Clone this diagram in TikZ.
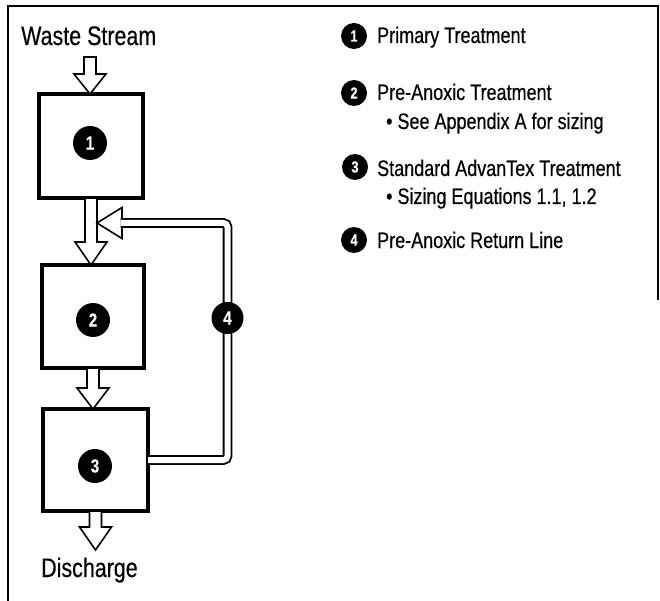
\documentclass[tikz,border=0pt]{standalone}
\usepackage{fontspec}
\setmainfont[FakeStretch=0.8,FakeBold=0.4]{Liberation Sans}
\usetikzlibrary{calc}
\newcommand\flowarrow[3]{%
  \draw[blockarrow] ($(#1)+(-6,0)$) -- ($(#1)+(6,0)$) -- ($(#1 |- #2)+(6,-#3)$)
    -- ($(#1 |- #2)+(16,-#3)$) -- (#1 |- #2) -- ($(#1 |- #2)+(-16,-#3)$)
    -- ($(#1 |- #2)+(-6,-#3)$) -- cycle;}
\begin{document}
\begin{tikzpicture}[x=1pt,y=-1pt,
  tank/.style={draw, line width=4pt, inner sep=0pt, outer sep=0pt},
  num/.style={circle, fill=black, text=white, inner sep=0pt, minimum size=34pt,
    font=\bfseries\fontsize{19}{19}\selectfont},
  lnum/.style={circle, fill=black, text=white, inner sep=0pt, minimum size=26pt,
    font=\bfseries\fontsize{16}{16}\selectfont},
  blockarrow/.style={draw, line width=1.6pt, fill=white, line join=miter},
  ret/.style={draw, double, double distance=6pt, line width=1.8pt, rounded corners=4pt},
  big/.style={font=\fontsize{26.8}{30}\selectfont, anchor=base west, inner sep=0pt},
  leg/.style={font=\fontsize{22.5}{24}\selectfont, anchor=base west, inner sep=0pt}]
\useasboundingbox (0,0) rectangle (660,601);
% frame
\draw[line width=2pt] (8,601) -- (8,6) -- (658,6) -- (658,300);
% tanks
\node[tank, minimum width=104, minimum height=104] (b1) at (91,146) {};
\node[tank, minimum width=102, minimum height=103] (b2) at (93,316.5) {};
\node[tank, minimum width=105, minimum height=102] (b3) at (95.5,460) {};
\node[num] (c1) at (90,143) {1};
\node[num] (c2) at (93,320) {2};
\node[num] (c3) at (95,466) {3};
% labels
\node[big] (ws) at (21,45) {Waste Stream};
\node[big] (dc) at (41,577) {Discharge};
\coordinate (win) at (90,57);
\coordinate (dout) at (96,550);
% flow arrows
\flowarrow{win}{b1.north}{20}
\flowarrow{b1.south}{b2.north}{23}
\flowarrow{b2.south}{b3.north}{21}
\flowarrow{b3.south}{dout}{23}
% return line
\coordinate (rtip) at (97,223);
\coordinate (rcorner) at (227.5,223);
\coordinate (rend) at (120.5,223);
\draw[blockarrow] (rtip) -- ++(25,-15.5) -- ++(0,31) -- cycle;
\draw[ret] (b3.east) -| (rcorner) -- (rend);
\node[num, minimum size=32pt] (c4) at (227.5,318) {4};
% legend
\node[lnum] (l1) at (354,36) {1};
\node[lnum] (l2) at (354,93) {2};
\node[lnum] (l3) at (355,167) {3};
\node[lnum] (l4) at (354,240) {4};
\node[leg] (t1) at (377,43) {Primary Treatment};
\node[leg] (t2) at (377,100) {Pre-Anoxic Treatment};
\node[leg] (t2b) at (386,129) {\textbullet\ See Appendix A for sizing};
\node[leg] (t3) at (377,176) {Standard AdvanTex Treatment};
\node[leg] (t3b) at (386,204) {\textbullet\ Sizing Equations 1.1, 1.2};
\node[leg] (t4) at (377,248) {Pre-Anoxic Return Line};
\end{tikzpicture}
\end{document}
